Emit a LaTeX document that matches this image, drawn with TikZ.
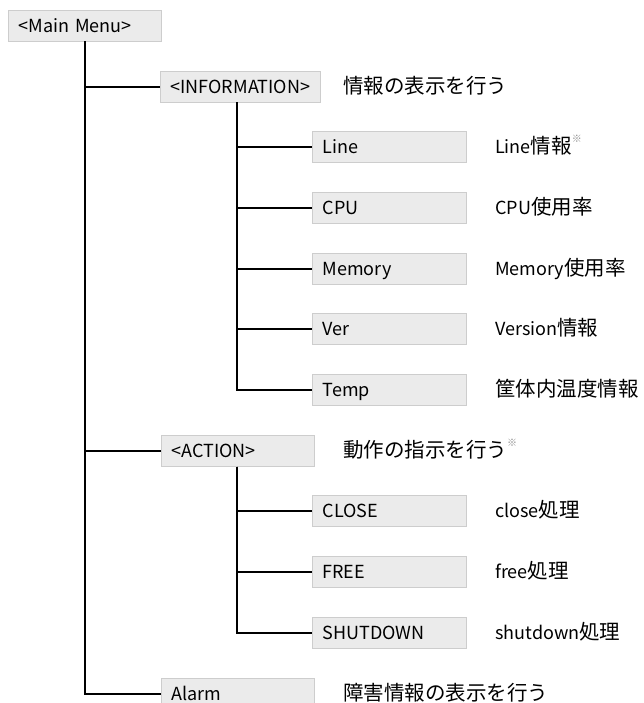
\documentclass[tikz,border=0pt]{standalone}
\usepackage{fontspec}
\setmainfont{Noto Sans CJK JP}
\newcommand\J[1]{{\fontsize{20.5}{22}\selectfont #1}}
\newcommand\kome{\raisebox{1.1ex}{\fontsize{10}{10}\selectfont\color{black!45}※}}
\definecolor{boxfill}{RGB}{235,235,235}
\definecolor{boxline}{RGB}{205,205,205}
\begin{document}
\begin{tikzpicture}[x=1pt,y=-1pt,
  menubox/.style={draw=boxline, fill=boxfill, line width=1.2pt, rectangle,
    minimum height=31pt, inner xsep=10pt, inner ysep=0pt, align=left,
    anchor=west, text height=15pt, text depth=2pt, font=\fontsize{18}{20}\selectfont},
  wa/.style={menubox, text width=133pt},
  wb/.style={menubox, text width=140pt},
  wc/.style={menubox, text width=134pt},
  desc/.style={anchor=west, inner sep=0pt, text height=15pt, text depth=2pt,
    font=\fontsize{18}{20}\selectfont},
  conn/.style={line width=1.6pt, black}]
\useasboundingbox (0,0) rectangle (643,703);
\clip (0,0) rectangle (643,703);
\fill[white] (0,0) rectangle (643,703);

% boxes
\node[wa] (main) at (8,26) {<Main Menu>};
\node[wb] (info) at (160,87) {<INFORMATION>};
\node[wc] (line) at (312,147) {Line};
\node[wc] (cpu) at (312,208) {CPU};
\node[wc] (mem) at (312,269) {Memory};
\node[wc] (ver) at (312,329) {Ver};
\node[wc] (temp) at (312,390) {Temp};
\node[wa] (action) at (161,451) {<ACTION>};
\node[wc] (close) at (312,511) {CLOSE};
\node[wc] (free) at (312,572) {FREE};
\node[wc] (shut) at (312,633) {SHUTDOWN};
\node[wa] (alarm) at (161,694) {Alarm};

% descriptions
\node[desc] (dinfo) at (343,87) {\J{情報の表示を行う}};
\node[desc] (dline) at (495,147) {Line\J{情報}\kome};
\node[desc] (dcpu) at (495,208) {CPU\J{使用率}};
\node[desc] (dmem) at (495,269) {Memory\J{使用率}};
\node[desc] (dver) at (495,329) {Version\J{情報}};
\node[desc] (dtemp) at (495,390) {\J{筐体内温度情報}};
\node[desc] (daction) at (343,451) {\J{動作の指示を行う}\kome};
\node[desc] (dclose) at (495,511) {close\J{処理}};
\node[desc] (dfree) at (495,572) {free\J{処理}};
\node[desc] (dshut) at (495,633) {shutdown\J{処理}};
\node[desc] (dalarm) at (343,694) {\J{障害情報の表示を行う}};

% connectors
\coordinate (mj) at (85,41.5);
\draw[conn] (mj) |- (info.west);
\draw[conn] (mj) |- (action.west);
\draw[conn] (mj) |- (alarm.west);
\coordinate (ij) at (237,102.5);
\draw[conn] (ij) |- (line.west);
\draw[conn] (ij) |- (cpu.west);
\draw[conn] (ij) |- (mem.west);
\draw[conn] (ij) |- (ver.west);
\draw[conn] (ij) |- (temp.west);
\coordinate (aj) at (237,466.5);
\draw[conn] (aj) |- (close.west);
\draw[conn] (aj) |- (free.west);
\draw[conn] (aj) |- (shut.west);
\end{tikzpicture}
\end{document}
